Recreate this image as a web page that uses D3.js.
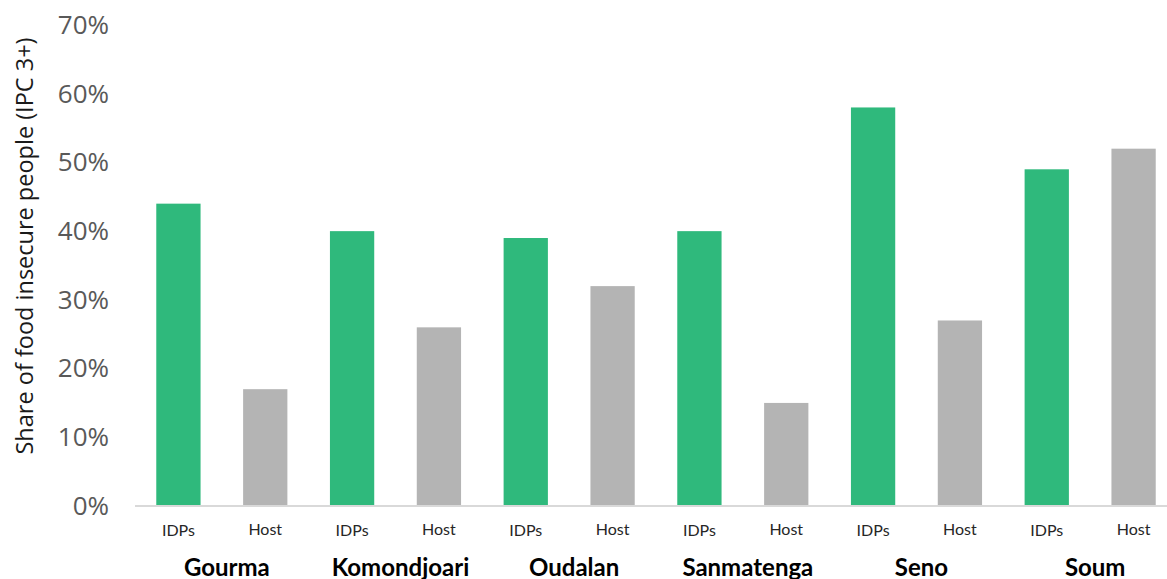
<!DOCTYPE html>
<html>
<head>
<meta charset="utf-8">
<script src="https://cdn.jsdelivr.net/npm/d3@7"></script>
<style>
  html, body { margin: 0; padding: 0; background: #fff; }
  svg { display: block; }
</style>
</head>
<body>
<svg id="chart" width="1167" height="579"></svg>
<script>
// Provinces and population groups
const regions = ["Gourma", "Komondjoari", "Oudalan", "Sanmatenga", "Seno", "Soum"];
const groups = ["IDPs", "Host"];
// Share of food insecure people (IPC 3+), percent
const idpValues = [44, 40, 39, 40, 58, 49];
const hostValues = [17, 26, 32, 15, 27, 52];
const yTicks = [0, 10, 20, 30, 40, 50, 60, 70];

const colors = { IDPs: "#2fb97c", Host: "#b4b4b4" };

const rows = [];
regions.forEach((r, i) => {
  rows.push({ key: r + "|IDPs", region: r, group: "IDPs", value: idpValues[i] });
  rows.push({ key: r + "|Host", region: r, group: "Host", value: hostValues[i] });
});

const svg = d3.select("#chart");

const x = d3.scaleBand()
  .domain(rows.map(d => d.key))
  .range([135, 1177])
  .paddingInner(0.49)
  .paddingOuter(0.245);

const y = d3.scaleLinear().domain([0, 70]).range([506, 25]);

// Bars
svg.append("g").selectAll("rect")
  .data(rows)
  .join("rect")
  .attr("x", d => x(d.key))
  .attr("y", d => y(d.value))
  .attr("width", x.bandwidth())
  .attr("height", d => y(0) - y(d.value))
  .attr("fill", d => colors[d.group]);

// Baseline
svg.append("line")
  .attr("x1", 135).attr("x2", 1167)
  .attr("y1", y(0)).attr("y2", y(0))
  .attr("stroke", "#d9d9d9").attr("stroke-width", 2);

// Y axis labels
const yAxis = d3.axisLeft(y).tickValues(yTicks).tickFormat(d => d + "%").tickSize(0).tickPadding(0);
const yg = svg.append("g").attr("transform", "translate(109,0)").call(yAxis);
yg.select(".domain").remove();
yg.selectAll("text")
  .attr("font-family", "'Open Sans', sans-serif")
  .attr("font-size", 26)
  .attr("fill", "#595959");

// Y axis title
svg.append("text")
  .attr("transform", "translate(33,246) rotate(-90)")
  .attr("text-anchor", "middle")
  .attr("font-family", "'Open Sans', sans-serif")
  .attr("font-size", 23.5)
  .attr("fill", "#1a1a1a")
  .text("Share of food insecure people (IPC 3+)");

// Group labels under each bar
svg.append("g").selectAll("text")
  .data(rows)
  .join("text")
  .attr("x", d => x(d.key) + x.bandwidth() / 2)
  .attr("y", d => d.group === "IDPs" ? 536 : 535)
  .attr("text-anchor", "middle")
  .attr("font-family", "Lato, sans-serif")
  .attr("font-size", 16)
  .attr("fill", "#262626")
  .text(d => d.group);

// Province labels
svg.append("g").selectAll("text")
  .data(regions)
  .join("text")
  .attr("x", r => (x(r + "|IDPs") + x(r + "|Host") + x.bandwidth()) / 2 + 5)
  .attr("y", 576)
  .attr("text-anchor", "middle")
  .attr("font-family", "Lato, sans-serif")
  .attr("font-weight", "bold")
  .attr("font-size", 24)
  .attr("fill", "#000")
  .text(r => r);
</script>
</body>
</html>
